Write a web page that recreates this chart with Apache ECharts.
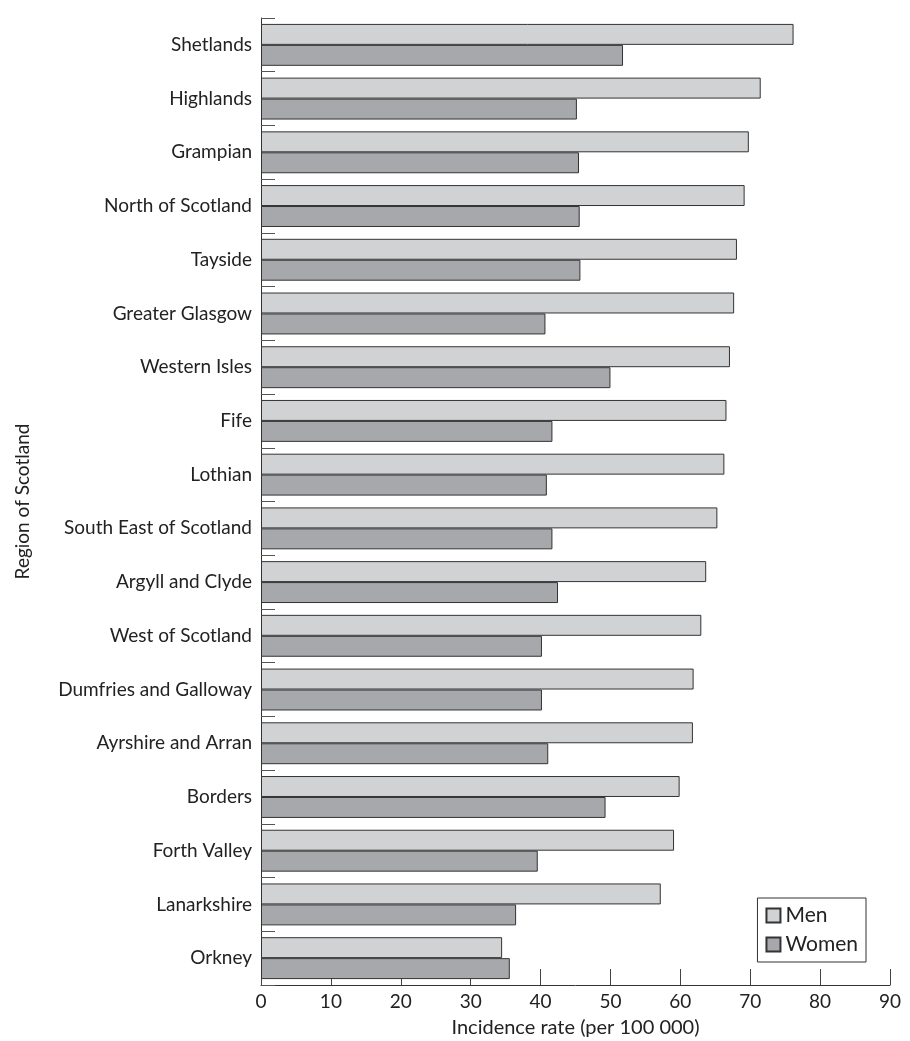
<!DOCTYPE html>
<html>
<head>
<meta charset="utf-8">
<script src="https://cdn.jsdelivr.net/npm/echarts@6/dist/echarts.min.js"></script>
<style>html,body{margin:0;padding:0;background:#fff}#c{width:910px;height:1041px}</style>
</head>
<body>
<div id="c"></div>
<script>
const categories = ["Shetlands","Highlands","Grampian","North of Scotland","Tayside","Greater Glasgow","Western Isles","Fife","Lothian","South East of Scotland","Argyll and Clyde","West of Scotland","Dumfries and Galloway","Ayrshire and Arran","Borders","Forth Valley","Lanarkshire","Orkney"];
const men =   [76.2,71.5,69.8,69.2,68.1,67.7,67.1,66.6,66.3,65.3,63.7,63.0,61.9,61.8,59.9,59.1,57.2,34.5];
const women = [51.8,45.2,45.5,45.6,45.7,40.7,50.0,41.7,40.9,41.7,42.5,40.2,40.2,41.1,49.3,39.6,36.5,35.6];
const xTicks = [0,10,20,30,40,50,60,70,80,90];

const FONT = 'Lato';
const chart = echarts.init(document.getElementById('c'), null, {renderer:'canvas'});
chart.setOption({
  animation: false,
  backgroundColor: '#fff',
  textStyle: {fontFamily: FONT, color: '#222'},
  grid: {left: 261, right: 20, top: 18, bottom: 56, containLabel: false, outerBoundsMode: 'none'},
  legend: {
    orient: 'vertical', right: 44, top: 898,
    data: ['Men','Women'],
    itemWidth: 14, itemHeight: 14, itemGap: 8,
    padding: [7, 8, 7, 8],
    borderColor: '#333', borderWidth: 1,
    textStyle: {fontFamily: FONT, fontSize: 21, color: '#222'},
    icon: 'rect'
  },
  xAxis: {
    type: 'value', min: 0, max: 90, interval: 10,
    name: 'Incidence rate (per 100 000)', nameLocation: 'middle', nameGap: 33,
    nameTextStyle: {fontFamily: FONT, fontSize: 20, color: '#222'},
    axisLine: {show: true, lineStyle: {color: '#333', width: 1}},
    axisTick: {show: true, inside: true, length: 16, lineStyle: {color: '#444'}},
    axisLabel: {fontFamily: FONT, fontSize: 19, color: '#222', margin: 7,
      formatter: v => xTicks.includes(v) ? String(v) : ''},
    splitLine: {show: false}
  },
  yAxis: {
    type: 'category', data: categories, inverse: true,
    name: 'Region of Scotland', nameLocation: 'middle', nameGap: 229, nameRotate: 90,
    nameTextStyle: {fontFamily: FONT, fontSize: 19, color: '#222'},
    axisLine: {show: true, lineStyle: {color: '#333', width: 1}},
    axisTick: {show: true, inside: true, length: 14, lineStyle: {color: '#555'}},
    axisLabel: {fontFamily: FONT, fontSize: 19, color: '#222', margin: 9}
  },
  series: [
    {name: 'Men', type: 'bar', data: men, barGap: '0%', barCategoryGap: '22%',
     itemStyle: {color: '#d1d2d4', borderColor: '#333', borderWidth: 1}},
    {name: 'Women', type: 'bar', data: women, barGap: '0%', barCategoryGap: '22%',
     itemStyle: {color: '#a7a8ab', borderColor: '#333', borderWidth: 1}}
  ]
});
</script>
</body>
</html>
